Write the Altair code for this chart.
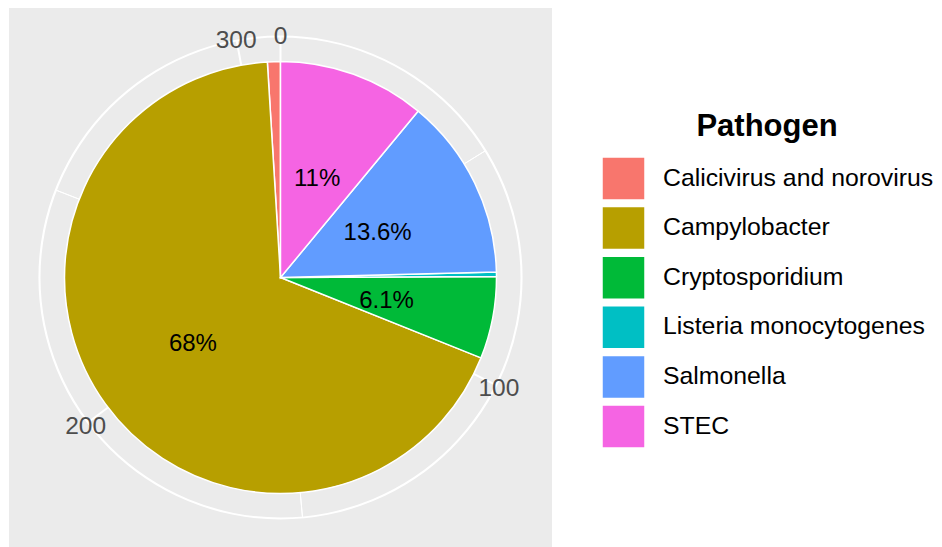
import math
import altair as alt
import pandas as pd

FONT = "Liberation Sans"

# ---- data ----
pathogens = ["Calicivirus and norovirus", "Campylobacter", "Cryptosporidium",
             "Listeria monocytogenes", "Salmonella", "STEC"]
cases = [3, 210, 19, 1, 42, 34]
colors = ["#F8766D", "#B79F00", "#00BA38", "#00BFC4", "#619CFF", "#F564E3"]
major_ticks = [0, 100, 200, 300]
minor_ticks = [50, 150, 250]

total = sum(cases)


def pct_label(v):
    p = round(v / total * 100, 1)
    if p < 2:
        return ""
    return f"{p:.1f}".rstrip("0").rstrip(".") + "%"


df = pd.DataFrame({"pathogen": pathogens, "cases": cases})
df["ord"] = list(range(len(pathogens) - 1, -1, -1))
df["label"] = [pct_label(v) for v in cases]

ring_df = pd.DataFrame({"start": [0], "end": [total]})
grid_df = pd.DataFrame({"tick": major_ticks + minor_ticks,
                        "kind": ["major"] * len(major_ticks) + ["minor"] * len(minor_ticks)})
tick_df = pd.DataFrame({"tick": major_ticks, "txt": [str(t) for t in major_ticks]})
panel_df = pd.DataFrame({"panel": [1]})

theta_scale = alt.Scale(domain=[0, total], range=[0, 2 * math.pi])

panel = alt.Chart(panel_df).mark_rect(color="#EBEBEB").encode(
    x=alt.value(0), x2=alt.value("width"), y=alt.value(0), y2=alt.value("height"),
)

ring = alt.Chart(ring_df).mark_arc(radius=242, radius2=240, color="white").encode(
    theta=alt.Theta("start:Q", scale=theta_scale, stack=None),
    theta2="end:Q",
)

grid = alt.Chart(grid_df).mark_arc(radius=241, radius2=0, fillOpacity=0, stroke="white").encode(
    theta=alt.Theta("tick:Q", scale=theta_scale, stack=None),
    theta2="tick:Q",
    strokeWidth=alt.StrokeWidth("kind:N", scale=alt.Scale(domain=["major", "minor"], range=[2, 1]),
                                legend=None),
)

pie = alt.Chart(df).mark_arc(radius=216, stroke="white", strokeWidth=1.5).encode(
    theta=alt.Theta("cases:Q", stack=True, scale=theta_scale),
    color=alt.Color(
        "pathogen:N",
        sort=pathogens,
        scale=alt.Scale(domain=pathogens, range=colors),
        legend=alt.Legend(
            title="Pathogen", orient="none", legendX=592, legendY=104,
            titleFontSize=31, titleFontWeight="bold", titleColor="black", titleFont=FONT,
            titleAnchor="middle", titleAlign="center", titlePadding=13,
            labelFontSize=24.8, labelFont=FONT, labelColor="black", labelLimit=600,
            symbolType="square", symbolSize=1849, symbolStrokeColor="white",
            symbolStrokeWidth=1.5, symbolOpacity=1, rowPadding=0.6, labelOffset=17,
        ),
    ),
    order=alt.Order("ord:Q"),
)

text = alt.Chart(df).mark_text(radius=108, fontSize=24, color="black", font=FONT, dy=3).encode(
    theta=alt.Theta("cases:Q", stack=True, scale=theta_scale),
    order=alt.Order("ord:Q"),
    detail="pathogen:N",
    text="label:N",
)

ticks = alt.Chart(tick_df).mark_text(radius=244, fontSize=24.5, color="#4D4D4D", font=FONT,
                                     dy=3).encode(
    theta=alt.Theta("tick:Q", scale=theta_scale, stack=None),
    text="txt:N",
)

chart = alt.layer(panel, ring, grid, pie, text, ticks).properties(
    width=543, height=539,
    padding={"left": 1, "top": 0, "right": 0, "bottom": 0},
).configure_view(stroke="transparent")

chart.save("out.html", embed_options={"renderer": "svg", "actions": False})
